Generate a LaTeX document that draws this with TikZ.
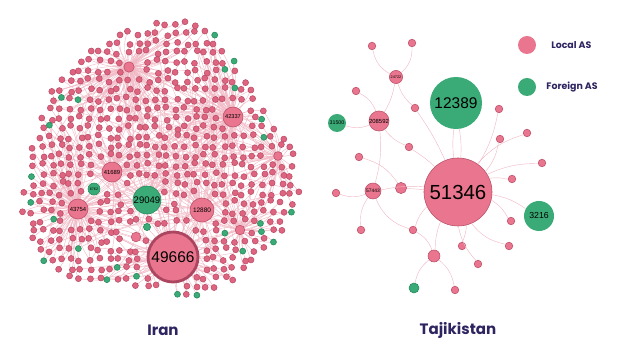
\documentclass[tikz,border=0pt]{standalone}
\usepackage{fontspec}
\setmainfont{Poppins}
\newfontfamily\numfont{Liberation Sans}
\usetikzlibrary{positioning}
\definecolor{localpink}{RGB}{233,118,142}
\definecolor{dotpink}{RGB}{222,100,128}
\definecolor{localedge}{RGB}{186,78,104}
\definecolor{ringpink}{RGB}{172,70,96}
\definecolor{foreigngreen}{RGB}{58,170,118}
\definecolor{foreignedge}{RGB}{38,138,92}
\definecolor{linkpink}{RGB}{240,184,196}
\definecolor{titlenavy}{RGB}{45,36,96}
\tikzset{
  asnode/.style={circle, inner sep=0pt, font=\numfont},
  localas/.style={asnode, fill=localpink, draw=localedge, line width=0.4pt},
  foreignas/.style={asnode, fill=foreigngreen, draw=foreignedge, line width=0.4pt},
  dotsize/.style={minimum size=0.15cm},
  leafsize/.style={minimum size=0.19cm},
  link/.style={draw=linkpink, line width=0.3pt},
  legendtext/.style={text=titlenavy, font=\bfseries\fontsize{6.7}{8}\selectfont},
  countrytitle/.style={text=titlenavy, font=\bfseries\fontsize{10.7}{13}\selectfont}
}
\newcommand{\numsize}[1]{\numfont\fontsize{#1}{#1}\selectfont}

\begin{document}
\begin{tikzpicture}[x=0.025cm, y=-0.025cm]
  \useasboundingbox (0,0) rectangle (640,360);

  % Iran: hub places
  \coordinate (ir1) at (173,257);
  \coordinate (ir2) at (233,117);
  \coordinate (ir3) at (78,209);
  \coordinate (ir4) at (202,210);
  \coordinate (ir5) at (112,172);
  \coordinate (ir6) at (129,67);
  \coordinate (ir7) at (278,156);
  \coordinate (ir8) at (240,230);
  \coordinate (ir9) at (147,200);
  \coordinate (ir10) at (94,189);
  \coordinate (ir11) at (136,237);
  \coordinate (ir12) at (147,227);

  \draw[link] (ir1) to[bend left=10] (ir9);
  \draw[link] (ir1) to[bend right=8] (ir4);
  \draw[link] (ir1) to[bend left=12] (ir3);
  \draw[link] (ir1) to[bend right=10] (ir8);
  \draw[link] (ir2) to[bend right=10] (ir6);
  \draw[link] (ir2) to[bend left=8] (ir7);
  \draw[link] (ir3) to[bend left=10] (ir5);
  \draw[link] (ir3) to (ir10);
  \draw[link] (ir9) to (ir5);
  \draw[link] (ir11) to (ir1);
  \draw[link] (ir12) to (ir9);

  % Iran: the many small AS, first their places and links
  \pgfmathsetseed{4242}
  \foreach \i in {0,...,30}{
    \foreach \j in {0,...,30}{
      \pgfmathsetmacro\nx{13+9.6*\i+2.4*rand}
      \pgfmathsetmacro\ny{24+9.4*\j+2.4*rand}
      \pgfmathsetmacro\dist{veclen(\nx-158,\ny-166)}
      \pgfmathsetmacro\ang{atan2(\ny-166,\nx-158)}
      \pgfmathtruncatemacro\keep{(\dist<136+9*sin(3*\ang)+5*cos(5*\ang))
        *(veclen(\nx-173,\ny-257)>31)*(veclen(\nx-147,\ny-200)>19)
        *(veclen(\nx-202,\ny-210)>17)*(veclen(\nx-112,\ny-172)>15)
        *(veclen(\nx-78,\ny-209)>15)*(veclen(\nx-233,\ny-117)>15)
        *(veclen(\nx-94,\ny-189)>11)*(veclen(\nx-129,\ny-67)>10)
        *(veclen(\nx-278,\ny-156)>9)*(veclen(\nx-240,\ny-230)>10)
        *(veclen(\nx-136,\ny-237)>10)*(veclen(\nx-147,\ny-227)>8)}
      \ifnum\keep=1
        \coordinate (s-\i-\j) at (\nx,\ny);
        \pgfmathtruncatemacro\isgreen{(rnd<0.07)*(\dist>92)}
        \expandafter\xdef\csname asgreen-\i-\j\endcsname{\isgreen}
        \pgfmathsetmacro\dA{veclen(\nx-173,\ny-257)/1.8}
        \pgfmathsetmacro\dB{veclen(\nx-233,\ny-117)/1.5}
        \pgfmathsetmacro\dC{veclen(\nx-78,\ny-209)/1.4}
        \pgfmathsetmacro\dD{veclen(\nx-202,\ny-210)/1.1}
        \pgfmathsetmacro\dE{veclen(\nx-112,\ny-172)/1.0}
        \pgfmathsetmacro\dF{veclen(\nx-129,\ny-67)/1.2}
        \pgfmathsetmacro\dG{veclen(\nx-278,\ny-156)/1.0}
        \pgfmathsetmacro\dH{veclen(\nx-240,\ny-230)/1.1}
        \pgfmathsetmacro\dI{veclen(\nx-147,\ny-200)/1.0}
        \pgfmathsetmacro\dM{min(\dA,\dB,\dC,\dD,\dE,\dF,\dG,\dH,\dI)}
        \pgfmathtruncatemacro\hubid{\dA==\dM ? 1 : (\dB==\dM ? 2 : (\dC==\dM ? 3 :
          (\dD==\dM ? 4 : (\dE==\dM ? 5 : (\dF==\dM ? 6 : (\dG==\dM ? 7 :
          (\dH==\dM ? 8 : 9)))))))}
        \pgfmathtruncatemacro\bend{-25+50*rnd}
        \pgfmathtruncatemacro\hubx{1+int(8.99*rnd)}
        \pgfmathtruncatemacro\xtra{rnd<0.45}
        \draw[link] (s-\i-\j) to[bend left=\bend] (ir\hubid);
        \ifnum\xtra=1
          \draw[link] (s-\i-\j) to[bend right=\bend] (ir\hubx);
        \fi
      \fi
    }
  }
  % then the dots on top
  \foreach \i in {0,...,30}{
    \foreach \j in {0,...,30}{
      \ifcsname asgreen-\i-\j\endcsname
        \ifnum\csname asgreen-\i-\j\endcsname=1
          \node[foreignas, dotsize] (as-\i-\j) at (s-\i-\j) {};
        \else
          \node[localas, fill=dotpink, dotsize] (as-\i-\j) at (s-\i-\j) {};
        \fi
      \fi
    }
  }

  % Iran: hubs
  \node[localas, draw=ringpink, minimum size=1.25cm, line width=2pt, font=\numsize{11}] (hub49666) at (ir1) {49666};
  \node[localas, minimum size=0.5cm, font=\numsize{4}] (hub42337) at (ir2) {42337};
  \node[localas, minimum size=0.5cm, font=\numsize{4.2}] (hub43754) at (ir3) {43754};
  \node[localas, minimum size=0.6cm, font=\numsize{4.6}] (hub12880) at (ir4) {12880};
  \node[localas, minimum size=0.5cm, font=\numsize{4.2}] (hub41689) at (ir5) {41689};
  \node[localas, minimum size=0.26cm] (hubtop) at (ir6) {};
  \node[localas, minimum size=0.22cm] (hubright) at (ir7) {};
  \node[localas, minimum size=0.24cm] (hublow) at (ir8) {};
  \node[foreignas, minimum size=0.7cm, font=\numsize{6.8}] (hub29049) at (ir9) {29049};
  \node[foreignas, minimum size=0.3cm, font=\numsize{2.6}] (hub6762) at (ir10) {6762};
  \node[localas, minimum size=0.24cm] (hubmid) at (ir11) {};
  \node[foreignas, minimum size=0.18cm] (hubgreen) at (ir12) {};

  % Tajikistan
  \node[localas, minimum size=1.7cm, font=\numsize{14.5}] (tj51346) at (458,192) {51346};
  \node[foreignas, draw=none, minimum size=1.3cm, font=\numsize{11}] (tj12389) at (456,103) {12389};
  \node[foreignas, draw=none, minimum size=0.75cm, font=\numsize{6.2}] (tj3216) at (539,216) {3216};
  \node[localas, minimum size=0.5cm, font=\numsize{4.2}] (tj208592) at (379,121) {208592};
  \node[localas, minimum size=0.33cm, font=\numsize{2.7}] (tj24722) at (396,77) {24722};
  \node[localas, minimum size=0.4cm, font=\numsize{3.5}] (tj57443) at (373,191) {57443};
  \node[foreignas, draw=none, minimum size=0.45cm, font=\numsize{3.8}] (tj31500) at (337,123) {31500};
  \node[localas, minimum size=0.3cm] (tj43197) at (434,256) {};
  \node[foreignas, minimum size=0.25cm] (tjg) at (414,288) {};
  \node[localas, minimum size=0.28cm] (tj48027) at (401,188) {};
  \foreach \n/\x/\y in {a/372/46, b/412/43, c/415/108, d/356/91, e/409/147,
      f/336/193, g/361/230, h/413/230, i/359/157, j/455/290, k/462/246,
      l/478/264, m/509/246, n/511/221, o/499/109, p/500/139, q/527/133,
      r/512/179, s/542/163}
    \node[localas, leafsize] (tl\n) at (\x,\y) {};

  \draw[link] (tj24722) to[bend left=25] (tla);
  \draw[link] (tj24722) to[bend right=25] (tlb);
  \draw[link] (tj24722) to[bend left=10] (tj208592);
  \draw[link] (tj24722) to[bend right=15] (tlc);
  \draw[link] (tlc) to[bend left=5] (tj51346);
  \draw[link] (tj208592) to[bend right=20] (tld);
  \draw[link] (tj208592) to[bend left=20] (tj31500);
  \draw[link] (tj208592) to[bend right=15] (tle);
  \draw[link] (tle) to[bend left=5] (tj51346);
  \draw[link] (tj208592) to[bend left=10] (tj57443);
  \draw[link] (tj12389) to[bend right=6] (tj51346);
  \draw[link] (tj12389) to[bend left=6] (tj51346);
  \draw[link] (tj57443) to[bend left=20] (tlf);
  \draw[link] (tj57443) to[bend right=20] (tlg);
  \draw[link] (tj57443) to[bend right=25] (tlh);
  \draw[link] (tj57443) to[bend left=8] (tj51346);
  \draw[link] (tli) to[bend left=20] (tj48027);
  \draw[link] (tj48027) to (tj51346);
  \draw[link] (tlh) to[bend left=15] (tj51346);
  \draw[link] (tlh) to[bend left=20] (tj43197);
  \draw[link] (tj43197) to[bend right=20] (tjg);
  \draw[link] (tj43197) to[bend left=20] (tlj);
  \draw[link] (tj43197) to[bend left=10] (tj51346);
  \foreach \n/\b in {k/10, l/-15, m/-20, n/15, o/-10, p/-15, q/15, r/10, s/12}
    \draw[link] (tj51346) to[bend left=\b] (tl\n);
  \draw[link] (tj51346) to[bend left=12] (tj3216);

  % legend and titles
  \node[localas, draw=none, minimum size=0.45cm] (keylocal) at (527,45) {};
  \node[legendtext, right=0.25cm of keylocal] (keylocaltext) {Local AS};
  \node[foreignas, draw=none, minimum size=0.45cm] (keyforeign) at (527,87) {};
  \node[legendtext, right=0.13cm of keyforeign] (keyforeigntext) {Foreign AS};
  \node[countrytitle] (irantitle) at (163,330) {Iran};
  \node[countrytitle] (tajiktitle) at (458,330) {Tajikistan};
\end{tikzpicture}
\end{document}
